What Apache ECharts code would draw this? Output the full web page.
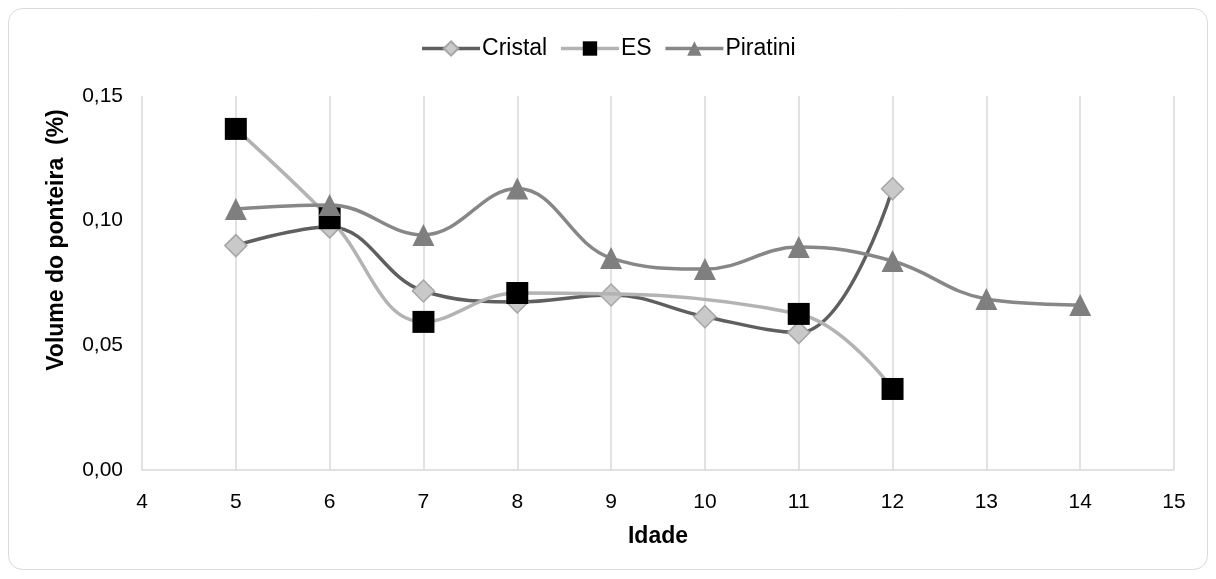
<!DOCTYPE html>
<html>
<head>
<meta charset="utf-8">
<script src="https://cdn.jsdelivr.net/npm/echarts@6/dist/echarts.min.js"></script>
<style>
  html, body { margin: 0; padding: 0; background: #fff; }
  #chart { width: 1216px; height: 579px; }
</style>
</head>
<body>
<div id="chart"></div>
<script>
// Idade (x) e volume do ponteira (%)
let idades = [5, 6, 7, 8, 9, 10, 11, 12, 13, 14];
let cristal = [0.090, 0.0975, 0.0718, 0.0674, 0.0702, 0.0615, 0.0551, 0.1128, null, null];
let es = [0.1368, 0.101, 0.0594, 0.0710, null, null, 0.0626, 0.0325, null, null];
let piratini = [0.1047, 0.1063, 0.0943, 0.1129, 0.0850, 0.0806, 0.0894, 0.0838, 0.0686, 0.0662];

function pares(vals) {
    let arr = [];
    for (let i = 0; i < idades.length; i++) {
        if (vals[i] !== null) arr.push([idades[i], vals[i]]);
    }
    return arr;
}

let fonte = "Liberation Sans, Arial, sans-serif";
let mychart = echarts.init(document.getElementById("chart"));
let options = {
    animation: false,
    textStyle: { fontFamily: fonte },
    graphic: [{
        type: "rect",
        shape: { x: 8.5, y: 8.5, width: 1199, height: 561, r: 14 },
        style: { fill: "none", stroke: "#d9d9d9", lineWidth: 1 },
        silent: true
    }],
    legend: {
        top: 32,
        left: "center",
        itemWidth: 58,
        itemHeight: 18,
        itemGap: 12,
        lineStyle: { width: 3.5 },
        textStyle: { color: "#000", fontSize: 23, fontFamily: fonte, padding: [0, 0, 0, -3] },
        data: ["Cristal", "ES", "Piratini"]
    },
    grid: { left: 142, right: 42, top: 96, bottom: 109 },
    xAxis: {
        type: "value",
        min: 4,
        max: 15,
        interval: 1,
        name: "Idade",
        nameLocation: "middle",
        nameGap: 55,
        nameTextStyle: { color: "#000", fontSize: 23, fontWeight: "bold", fontFamily: fonte },
        axisLine: { show: true, lineStyle: { color: "#d9d9d9", width: 1.5 } },
        axisTick: { show: false },
        axisLabel: { color: "#000", fontSize: 21, margin: 22, fontFamily: fonte },
        splitLine: { show: true, lineStyle: { color: "#d9d9d9", width: 1.5 } }
    },
    yAxis: {
        type: "value",
        min: 0,
        max: 0.15,
        interval: 0.05,
        name: "Volume do ponteira  (%)",
        nameLocation: "middle",
        nameGap: 74,
        nameTextStyle: {
            color: "#000", fontSize: 23, fontWeight: "bold", fontFamily: fonte,
            padding: [0, 0, 0, 86]
        },
        axisLine: { show: false },
        axisTick: { show: false },
        axisLabel: {
            color: "#000", fontSize: 21, margin: 19, fontFamily: fonte,
            formatter: function (v) { return v.toFixed(2).replace(".", ","); }
        },
        splitLine: { show: false }
    },
    series: [{
        name: "Cristal",
        type: "line",
        smooth: 0.4,
        data: pares(cristal),
        symbol: "diamond",
        symbolSize: 22,
        lineStyle: { color: "#5f5f5f", width: 3.5 },
        itemStyle: { color: "#c9c9c9", borderColor: "#a6a6a6", borderWidth: 1.5 },
        z: 2
    }, {
        name: "ES",
        type: "line",
        smooth: 0.4,
        connectNulls: true,
        data: pares(es),
        symbol: "rect",
        symbolSize: 22,
        lineStyle: { color: "#b3b3b3", width: 3.5 },
        itemStyle: { color: "#000", borderColor: "#000", borderWidth: 0 },
        z: 3
    }, {
        name: "Piratini",
        type: "line",
        smooth: 0.4,
        data: pares(piratini),
        symbol: "triangle",
        symbolSize: 22,
        lineStyle: { color: "#878787", width: 3.5 },
        itemStyle: { color: "#7f7f7f", borderColor: "#7f7f7f", borderWidth: 0 },
        z: 4
    }]
};
mychart.setOption(options);
</script>
</body>
</html>
